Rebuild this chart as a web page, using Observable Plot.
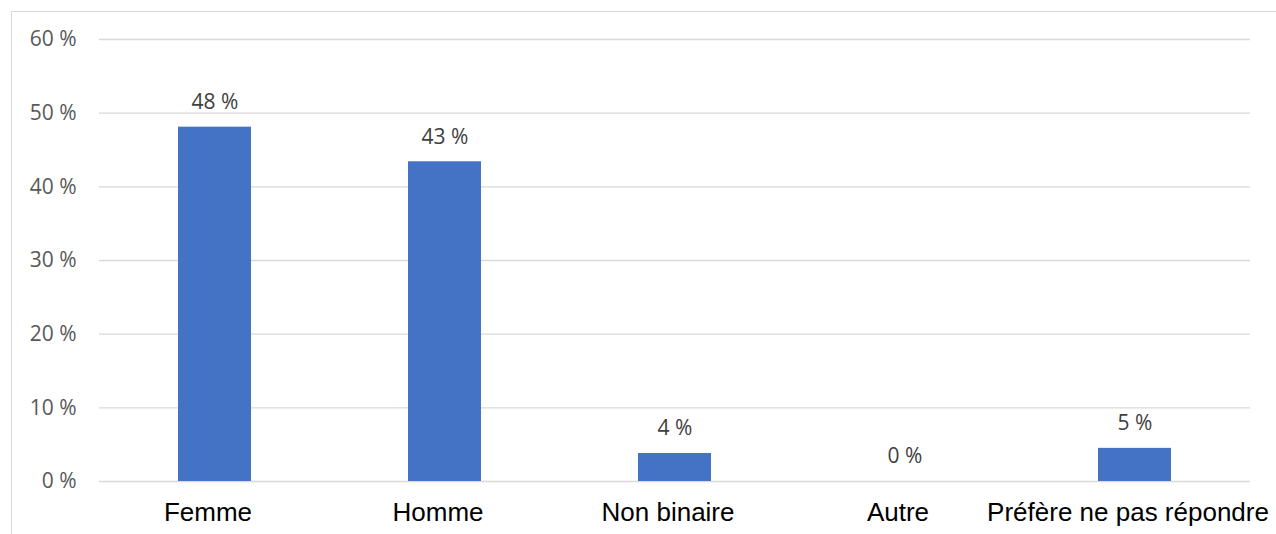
<!DOCTYPE html>
<html><head><meta charset="utf-8">
<script src="https://cdn.jsdelivr.net/npm/d3@7"></script>
<script src="https://cdn.jsdelivr.net/npm/@observablehq/plot@0.6"></script>
<style>
body{margin:0;background:#fff;}
#wrap{position:relative;width:1276px;height:534px;overflow:hidden;}
#border{position:absolute;left:11px;top:11px;width:1400px;height:700px;border:1px solid #d9d9d9;box-sizing:border-box;}
#chart{position:absolute;left:0;top:0;}
</style></head>
<body><div id="wrap"><div id="border"></div><div id="chart"></div></div>
<script>
const categories = ["Femme","Homme","Non binaire","Autre","Préfère ne pas répondre"];
const values = [48.1, 43.4, 3.8, 0, 4.5];
const labels = ["48 %","43 %","4 %","0 %","5 %"];
const yTicks = [0,10,20,30,40,50,60];

const data = categories.map((c,i)=>({cat:c, v:values[i], lab:labels[i]}));

const chart = Plot.plot({
  width: 1276, height: 534,
  marginLeft: 99, marginRight: 26, marginTop: 39, marginBottom: 53,
  style: {background: "transparent", overflow: "visible"},
  x: {domain: categories, paddingInner: 0.683, paddingOuter: 0.3415, label: null},
  y: {domain: [0,60], label: null},
  marks: [
    Plot.gridY(yTicks, {stroke: "#d9d9d9", strokeOpacity: 1, strokeWidth: 1.3}),
    Plot.axisY(yTicks, {tickSize: 0, tickPadding: 23, tickFormat: d => d + " %", fontSize: 21, fontFamily: "Open Sans", fill: "#595959", label: null}),
    Plot.axisX({tickSize: 0, tickPadding: 21, dx: -7, fontSize: 26, fontFamily: "Liberation Sans", fill: "#000", label: null}),
    Plot.barY(data, {x: "cat", y: "v", fill: "#4472c4"}),
    Plot.text(data, {x: "cat", y: "v", text: "lab", dy: -25, fontSize: 21, fontFamily: "Open Sans", fill: "#404040", textAnchor: "middle"})
  ]
});
document.getElementById("chart").appendChild(chart);
</script></body></html>
